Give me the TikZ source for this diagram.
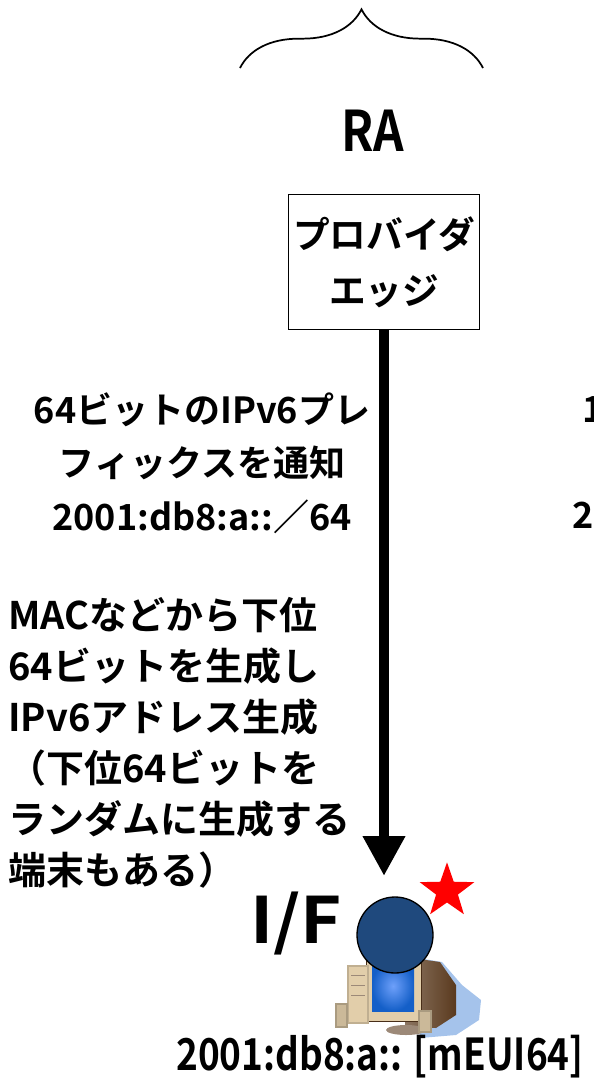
\documentclass[tikz,border=0pt]{standalone}
\usepackage{fontspec}
\newfontfamily\jp{Noto Sans CJK JP}[BoldFont={* Bold}]
\usetikzlibrary{positioning,arrows.meta,shapes.geometric,decorations.pathreplacing}
\definecolor{portblue}{RGB}{31,73,125}
\definecolor{shadowblue}{RGB}{165,195,235}
\definecolor{casebeige}{RGB}{226,206,170}
\definecolor{casebrown}{RGB}{90,58,30}
\definecolor{screenblue}{RGB}{20,95,200}
\definecolor{screenlight}{RGB}{110,160,250}
\tikzset{
	note/.style={
		font=\jp\bfseries\fontsize{27}{40}\selectfont,
		align=center,
		inner sep=0pt},
	edgebox/.style={
		rectangle,
		draw, line width=1.2pt,
		minimum width=142pt,
		minimum height=101pt,
		align=center,
		font=\jp\bfseries\fontsize{27.5}{42}\selectfont},
	bigarrow/.style={line width=7.5pt, -{Triangle[width=30pt,length=30pt]}},
	port/.style={circle, draw, line width=1pt, fill=portblue,
		minimum size=57pt, inner sep=0pt},
	tuborg/.style={decorate, decoration={brace, amplitude=44pt}, line width=1.3pt},
}

\begin{document}
\begin{tikzpicture}[x=0.75pt, y=-0.75pt]
\useasboundingbox (0,0) rectangle (593,1078);
% brace over the RA
\draw[tuborg] (240,68) -- (483,68);
\node[font=\jp\bfseries\fontsize{42}{42}\selectfont, xscale=0.85] (ra) at (373,131) {RA};

\node[edgebox] (edge) at (384,262) {プロバイダ\\エッジ};

% texts beside the arrow
\node[note] (prefix) at (202,463) {64ビットのIPv6プレ\\フィックスを通知\\2001:db8:a::／64};
\node[note, align=left, anchor=west, font=\jp\bfseries\fontsize{28.5}{38.3}\selectfont] (gen) at (8,743)
	{MACなどから下位\\64ビットを生成し\\IPv6アドレス生成\\（下位64ビットを\\ランダムに生成する\\端末もある）};
\node[note, anchor=west] (frag1) at (582,410) {1};
\node[note, anchor=west] (frag2) at (572,515) {2};

% the host
\fill[shadowblue] (418,958) -- (442,962) -- (462,985) -- (481,1000) -- (479,1020) -- (456,1035) -- (420,1038) -- cycle;
\shade[left color=casebrown!70!white, right color=casebrown] (405,957) -- (440,962) -- (456,985) -- (456,1015) -- (436,1028) -- (405,1027) -- cycle;
\fill[casebrown!60!white] (406,1030) ellipse (20 and 5);
\fill[casebeige] (366,956) rectangle (421,1021);
\draw[casebrown!80!black, line width=0.4pt] (366,956) rectangle (421,1021);
\shade[inner color=screenlight, outer color=screenblue] (372,961) rectangle (414,1011);
\fill[casebeige!85!black] (347,965) rectangle (369,1024);
\fill[casebeige] (349,967) rectangle (367,1022);
\foreach \y in {975,985,995}
	\draw[casebrown!60!white, line width=0.5pt] (351,\y) -- (365,\y);
\fill[casebeige!75!black] (335,1003) rectangle (348,1028);
\fill[casebeige!90!black] (337,1005) rectangle (346,1026);
\fill[casebeige!75!black] (418,1010) rectangle (432,1033);
\fill[casebeige!90!black] (420,1012) rectangle (430,1031);

\node[port] (port) at (395,935) {};
\node[star, star points=5, star point ratio=2.5, fill=red, inner sep=0pt,
	minimum size=43pt] (flag) at (447,891) {};
\node[font=\jp\bfseries\fontsize{48}{48}\selectfont, xscale=1.1, anchor=east] (iflabel) at (347,923) {I/F};

\coordinate (tip) at (384,876);
\draw[bigarrow] (edge.south) -- (tip);

\node[note, font=\jp\bfseries\fontsize{33}{33}\selectfont, xscale=0.84] (addr) at (380,1057) {2001:db8:a:: [mEUI64]};
\end{tikzpicture}
\end{document}
